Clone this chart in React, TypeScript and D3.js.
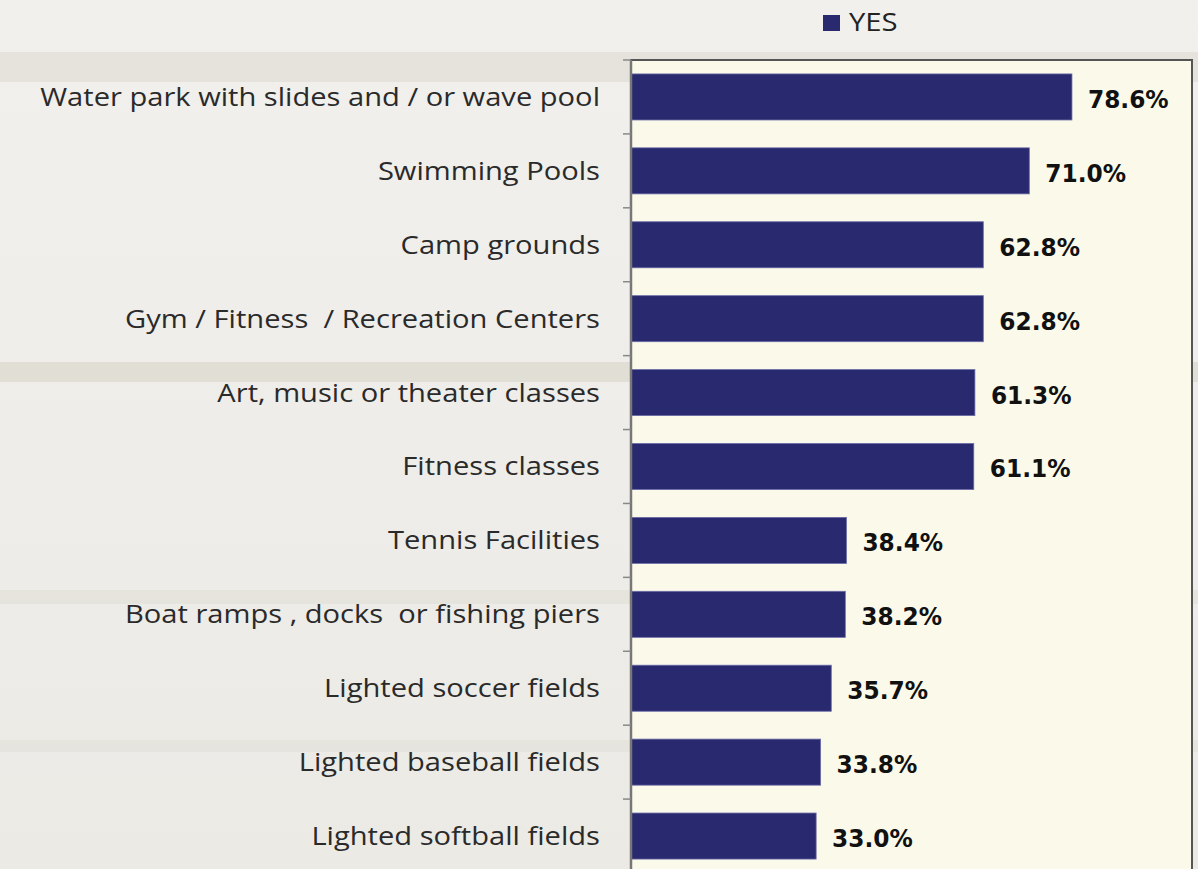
import React from "react";
import * as d3 from "d3";

const categories = [
  "Water park with slides and / or wave pool",
  "Swimming Pools",
  "Camp grounds",
  "Gym / Fitness  / Recreation Centers",
  "Art, music or theater classes",
  "Fitness classes",
  "Tennis Facilities",
  "Boat ramps , docks  or fishing piers",
  "Lighted soccer fields",
  "Lighted baseball fields",
  "Lighted softball fields",
];
const yesValues = [78.6, 71.0, 62.8, 62.8, 61.3, 61.1, 38.4, 38.2, 35.7, 33.8, 33.0];
const seriesName = "YES";

const W = 1198;
const H = 869;
const plot = { left: 631, right: 1192, top: 60, bottom: 873 };

export default function App() {
  const x = d3.scaleLinear().domain([0, 100]).range([plot.left, plot.right]);
  const y = d3
    .scaleBand<string>()
    .domain(categories)
    .range([plot.top, plot.bottom])
    .paddingInner(0.377)
    .paddingOuter(0.1885);
  const step = y.step();
  const tickYs = d3.range(categories.length + 1).map((i) => plot.top + i * step);
  const bandsBg = [
    { y: 52, h: 30, o: 0.35 },
    { y: 362, h: 20, o: 0.45 },
    { y: 590, h: 14, o: 0.25 },
    { y: 740, h: 12, o: 0.2 },
  ];
  return (
    <svg
      width={W}
      height={H}
      style={{ position: "absolute", left: 0, top: 0, display: "block" }}
      xmlns="http://www.w3.org/2000/svg"
    >
      <defs>
        <linearGradient id="bg" x1="0" y1="0" x2="0" y2="1">
          <stop offset="0" stopColor="#f1f0ed" />
          <stop offset="1" stopColor="#ebeae5" />
        </linearGradient>
      </defs>
      <rect x={0} y={0} width={W} height={H} fill="url(#bg)" />
      {bandsBg.map((b, i) => (
        <rect key={i} x={0} y={b.y} width={W} height={b.h} fill="#cfcbbd" opacity={b.o} />
      ))}
      {/* plot area */}
      <rect
        x={plot.left}
        y={plot.top}
        width={plot.right - plot.left}
        height={H - plot.top + 10}
        fill="#fbfaea"
        stroke="#555"
        strokeWidth={2}
      />
      {/* legend */}
      <rect x={823} y={15} width={17} height={16} fill="#29296f" />
      <text
        x={849}
        y={31}
        fontFamily="'Open Sans', sans-serif"
        fontSize={25}
        fill="#222"
        transform="translate(849,31) scale(1.17,1) translate(-849,-31)"
      >
        {seriesName}
      </text>
      {/* bars */}
      {categories.map((c, i) => (
        <rect
          key={c}
          x={x(0)}
          y={y(c)!}
          width={x(yesValues[i]) - x(0)}
          height={y.bandwidth()}
          fill="#29296f"
          stroke="#6b6ca8"
          strokeWidth={0.8}
        />
      ))}
      {/* axis line + ticks */}
      <line x1={plot.left} x2={plot.left} y1={plot.top} y2={H} stroke="#777" strokeWidth={2.5} />
      {tickYs.map((t, i) => (
        <line key={i} x1={plot.left - 8} x2={plot.left} y1={t} y2={t} stroke="#888" strokeWidth={1.5} />
      ))}
      {/* category labels */}
      {categories.map((c) => {
        const cy = y(c)! + y.bandwidth() / 2 + 9;
        return (
          <text
            key={c}
            x={600}
            y={cy}
            textAnchor="end"
            fontFamily="'Open Sans', sans-serif"
            fontSize={26}
            fill="#2a2a2a"
            style={{ whiteSpace: "pre" }}
            transform={`translate(600,${cy}) scale(1.12,1) translate(-600,${-cy})`}
          >
            {c}
          </text>
        );
      })}
      {/* value labels */}
      {categories.map((c, i) => {
        const lx = x(yesValues[i]) + 16;
        const ly = y(c)! + y.bandwidth() / 2 + 11;
        return (
          <text
            key={c}
            x={lx}
            y={ly}
            fontFamily="'DejaVu Sans', sans-serif"
            fontWeight="bold"
            fontSize={24}
            fill="#111"
            transform={`translate(${lx},${ly}) scale(0.97,1) translate(${-lx},${-ly})`}
          >
            {yesValues[i].toFixed(1) + "%"}
          </text>
        );
      })}
    </svg>
  );
}
